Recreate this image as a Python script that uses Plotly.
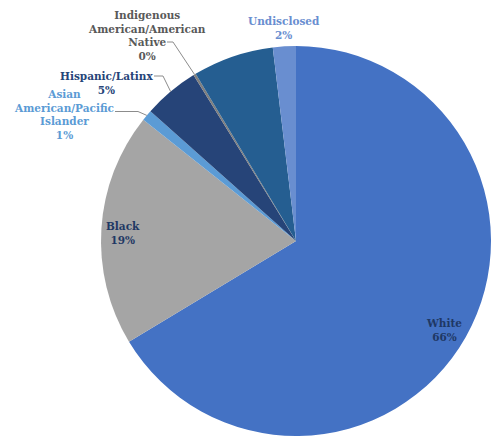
import plotly.graph_objects as go
import math

# Share of respondents by race/ethnicity (percent), clockwise from 12 o'clock
categories = ["White", "Black", "Asian American/Pacific Islander", "Hispanic/Latinx",
              "Indigenous American/American Native", "Multiracial", "Undisclosed"]
shares = [66.3, 19.3, 0.9, 4.6, 0.2, 6.7, 1.9]
slice_colors = ["#4472C4", "#A5A5A5", "#5B9BD5", "#264478", "#7F7F7F", "#255E91", "#698ED0"]

# Label text as drawn (line-broken names), None = no label
label_names = ["White", "Black", "Asian<br>American/Pacific<br>Islander", "Hispanic/Latinx",
               "Indigenous<br>American/American<br>Native", None, "Undisclosed"]
label_colors = ["#1F3864", "#1F3864", "#5B9BD5", "#264478", "#595959", None, "#698ED0"]

W, H = 491, 439
cx, cy, R = 296, 241, 195  # pie centre and radius in pixels (from top-left)

# label block centres (pixels) and optional leader-line start/elbow (pixels)
label_pos = [(444, 330), (123, 232.5), (64, 114.5), (106, 83), (147, 35), None, (284, 28)]
leaders = {2: [(115, 111.5), (138, 111.5)],
           3: [(154, 76), (163, 76)],
           4: [(167, 42), (173, 42)]}

fig = go.Figure(go.Pie(
    labels=categories,
    values=shares,
    sort=False,
    direction="clockwise",
    rotation=0,
    marker=dict(colors=slice_colors, line=dict(width=0)),
    textinfo="none",
    hoverinfo="label+percent",
    showlegend=False,
    domain=dict(x=[(cx - R) / W, (cx + R) / W], y=[(H - cy - R) / H, (H - cy + R) / H]),
))

def to_paper(p):
    return p[0] / W, 1 - p[1] / H

total = sum(shares)
cum = 0.0
annotations = []
shapes = []
for i, v in enumerate(shares):
    mid = (cum + v / 2) / total * 2 * math.pi
    cum += v
    edge = (cx + R * math.sin(mid), cy - R * math.cos(mid))
    if label_names[i] is not None:
        x, y = to_paper(label_pos[i])
        annotations.append(dict(
            x=x, y=y, xref="paper", yref="paper", xanchor="center", yanchor="middle",
            text=f"<b>{label_names[i]}<br>{round(v / total * 100)}%</b>",
            showarrow=False, align="center",
            font=dict(family="DejaVu Serif", size=10.5, color=label_colors[i]),
        ))
    if i in leaders:
        pts = [to_paper(p) for p in leaders[i] + [edge]]
        path = "M " + " L ".join(f"{px},{py}" for px, py in pts)
        shapes.append(dict(type="path", path=path, xref="paper", yref="paper",
                           line=dict(color="#8C8C8C", width=1)))

fig.update_layout(
    width=W, height=H,
    margin=dict(l=0, r=0, t=0, b=0),
    paper_bgcolor="white",
    plot_bgcolor="white",
    annotations=annotations,
    shapes=shapes,
)

fig.write_html("out.html")
